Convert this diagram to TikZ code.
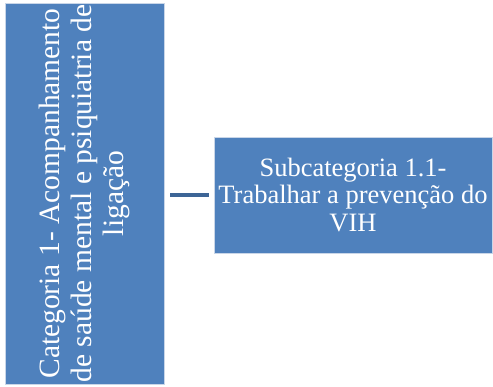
\documentclass[tikz,border=0pt]{standalone}
\usepackage{fontspec}
\setmainfont{Liberation Serif}
\newfontfamily\timesfont{Liberation Serif}
\definecolor{boxblue}{HTML}{4F81BD}
\definecolor{boxedge}{HTML}{C9D6E8}
\definecolor{linkblue}{HTML}{3D6596}
\begin{document}
\begin{tikzpicture}[x=1pt,y=-1pt,
  catbox/.style={draw=boxedge, line width=0.8pt, fill=boxblue, text=white, inner sep=0pt, align=center},
  link/.style={draw=linkblue, line width=4pt}]
\useasboundingbox (0,0) rectangle (493,386);
\node[catbox, rotate=90, minimum width=381pt, minimum height=159pt,
      font=\timesfont\fontsize{29.5}{32}\selectfont] (cat) at (84.5,193.5)
  {Categoria 1- Acompanhamento\\de saúde mental e psiquiatria de\\ligação};
\node[catbox, minimum width=278pt, minimum height=116pt,
      font=\timesfont\fontsize{26.5}{27.5}\selectfont] (sub) at (353,195)
  {Subcategoria 1.1-\\Trabalhar a prevenção do\\VIH};
\draw[link, shorten <=6pt, shorten >=5pt] (cat.south |- sub.west) -- (sub.west);
\end{tikzpicture}
\end{document}
